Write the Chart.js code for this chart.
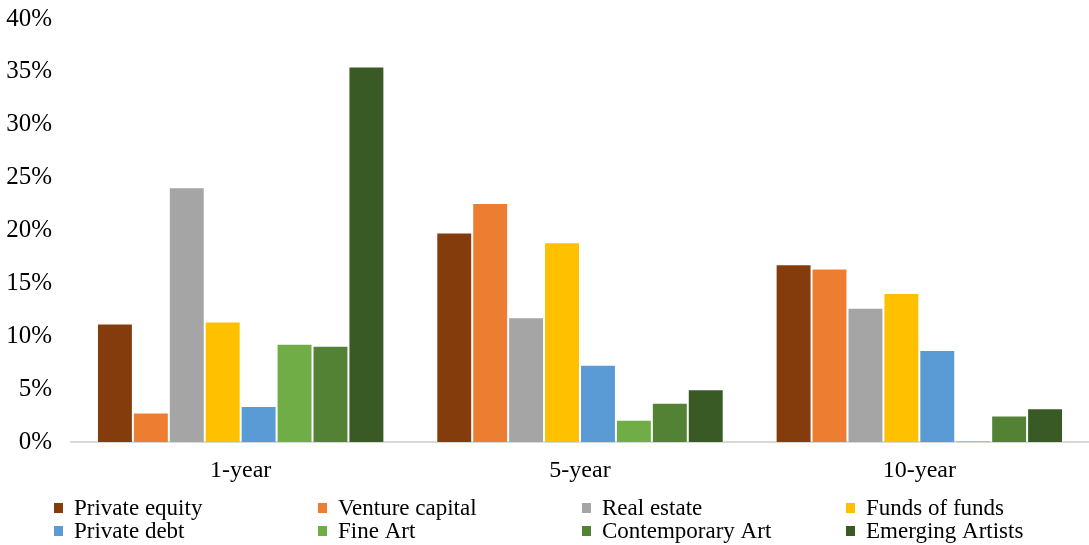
<!DOCTYPE html>
<html>
<head>
<meta charset="utf-8">
<script src="https://cdn.jsdelivr.net/npm/chart.js@4.4.1/dist/chart.umd.min.js"></script>
<style>
  html, body { margin: 0; padding: 0; background: #fff; }
  #wrap { width: 1089px; height: 545px; position: relative; }
</style>
</head>
<body>
<div id="wrap"><canvas id="myChart"></canvas></div>
<script>
// annualised returns by horizon, in percent
var horizons = ['1-year', '5-year', '10-year'];
var privateEquity   = [11.2, 19.8, 16.8];
var ventureCapital  = [2.8, 22.6, 16.4];
var realEstate      = [24.1, 11.8, 12.7];
var fundsOfFunds    = [11.4, 18.9, 14.1];
var privateDebt     = [3.4, 7.3, 8.7];
var fineArt         = [9.3, 2.1, 0.1];
var contemporaryArt = [9.1, 3.7, 2.5];
var emergingArtists = [35.5, 5.0, 3.2];
var yTicks = [0, 5, 10, 15, 20, 25, 30, 35, 40];

var font = 'Liberation Serif, Times New Roman, serif';

function series(label, data, color) {
    return {
        label: label,
        data: data,
        backgroundColor: color,
        borderColor: 'rgba(255, 255, 255, 0.45)',
        borderWidth: 1
    };
}

// legend laid out in a fixed 4-column grid under the axis
var gridLegend = {
    id: 'gridLegend',
    afterDraw: function (chart) {
        var ctx = chart.ctx;
        ctx.save();
        ctx.font = '23px ' + font;
        ctx.textBaseline = 'middle';
        chart.data.datasets.forEach(function (ds, i) {
            var x = 54 + (i % 4) * 264;
            var y = 508 + Math.floor(i / 4) * 23;
            ctx.fillStyle = ds.backgroundColor;
            ctx.fillRect(x, y - 5, 9, 10);
            ctx.fillStyle = '#000';
            ctx.fillText(ds.label, x + 20, y + 1);
        });
        ctx.restore();
    }
};

document.addEventListener('DOMContentLoaded', function () {
    var ctx = document.getElementById('myChart').getContext('2d');
    var myChart = new Chart(ctx, {
        type: 'bar',
        data: {
            labels: horizons,
            datasets: [
                series('Private equity', privateEquity, '#843C0C'),
                series('Venture capital', ventureCapital, '#ED7D31'),
                series('Real estate', realEstate, '#A5A5A5'),
                series('Funds of funds', fundsOfFunds, '#FFC000'),
                series('Private debt', privateDebt, '#5B9BD5'),
                series('Fine Art', fineArt, '#70AD47'),
                series('Contemporary Art', contemporaryArt, '#548235'),
                series('Emerging Artists', emergingArtists, '#3A5A25')
            ]
        },
        options: {
            responsive: true,
            maintainAspectRatio: false,
            animation: false,
            datasets: {
                bar: { categoryPercentage: 0.847, barPercentage: 1.0 }
            },
            layout: { padding: { top: 19, right: 0, left: 0, bottom: 0 } },
            scales: {
                x: {
                    grid: { display: false, drawTicks: false },
                    border: { display: true, color: '#D9D9D9', width: 2 },
                    ticks: { color: '#000', padding: 14, font: { family: font, size: 24 } },
                    afterFit: function (scale) { scale.height = 103; }
                },
                y: {
                    min: 0,
                    max: 40,
                    grid: { display: false, drawTicks: false },
                    border: { display: false },
                    afterBuildTicks: function (scale) {
                        scale.ticks = yTicks.map(function (v) { return { value: v }; });
                    },
                    ticks: {
                        color: '#000',
                        padding: 19,
                        font: { family: font, size: 25 },
                        callback: function (v) { return v + '%'; }
                    },
                    afterFit: function (scale) {
                        scale.width = 71;
                        scale.paddingTop = 0;
                        scale.paddingBottom = 0;
                    }
                }
            },
            plugins: {
                legend: { display: false },
                tooltip: { enabled: false }
            }
        },
        plugins: [gridLegend]
    });
});
</script>
</body>
</html>
